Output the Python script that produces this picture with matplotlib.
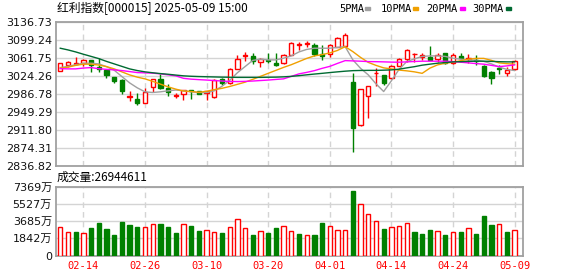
import numpy as np
import matplotlib
matplotlib.use('Agg')
from matplotlib import pyplot as plt
from matplotlib.patches import Rectangle

plt.rcParams['font.family'] = ['DejaVu Sans', 'Noto Sans CJK SC']

# торговые дни
dates = ['02-11', '02-12', '02-13', '02-14', '02-17', '02-18', '02-19', '02-20', '02-21', '02-24',
         '02-25', '02-26', '02-27', '02-28', '03-03', '03-04', '03-05', '03-06', '03-07', '03-10',
         '03-11', '03-12', '03-13', '03-14', '03-17', '03-18', '03-19', '03-20', '03-21', '03-24',
         '03-25', '03-26', '03-27', '03-28', '03-31', '04-01', '04-02', '04-03', '04-07', '04-08',
         '04-09', '04-10', '04-11', '04-14', '04-15', '04-16', '04-17', '04-18', '04-21', '04-22',
         '04-23', '04-24', '04-25', '04-28', '04-29', '04-30', '05-06', '05-07', '05-08', '05-09']

opens = [3035.6, 3048.0, 3050.0, 3051.5, 3057.8, 3042.6, 3037.0, 3021.9, 3016.3, 2981.5,
         2976.8, 2967.9, 3001.1, 3017.7, 2999.0, 2982.0, 2987.2, 2995.5, 2992.0, 2988.6,
         2979.5, 3017.7, 3009.4, 3038.5, 3065.0, 3066.0, 3053.0, 3057.8, 3052.2, 3050.9,
         3068.2, 3089.0, 3090.0, 3089.0, 3070.0, 3070.3, 3085.4, 3087.5, 3012.7, 2921.3,
         2981.6, 3030.0, 3026.6, 3019.8, 3045.3, 3059.9, 3069.6, 3064.7, 3064.7, 3059.2,
         3071.7, 3050.9, 3066.7, 3059.2, 3057.8, 3046.0, 3033.5, 3040.6, 3031.4, 3038.5]
highs = [3051.5, 3054.5, 3063.4, 3060.0, 3058.5, 3061.3, 3037.5, 3022.5, 3017.0, 2993.4,
         2988.6, 2999.0, 3018.0, 3028.0, 3007.3, 2988.6, 2996.0, 2996.0, 2993.0, 2994.0,
         3018.0, 3020.0, 3040.0, 3068.2, 3075.0, 3073.0, 3062.6, 3071.7, 3073.0, 3070.0,
         3095.0, 3095.8, 3097.0, 3092.5, 3089.0, 3091.0, 3105.0, 3113.2, 3031.4, 2997.0,
         3004.0, 3040.6, 3027.0, 3047.4, 3061.3, 3080.0, 3072.0, 3071.7, 3086.9, 3072.0,
         3072.4, 3073.0, 3073.0, 3070.3, 3068.2, 3046.5, 3034.0, 3047.4, 3042.6, 3057.8]
lows = [3035.0, 3043.0, 3047.4, 3045.0, 3033.5, 3032.3, 3021.0, 3010.7, 2986.6, 2971.2,
        2964.3, 2967.0, 2989.9, 2997.5, 2983.6, 2978.2, 2973.3, 2976.0, 2986.0, 2974.7,
        2978.0, 3006.0, 3007.0, 3038.0, 3055.8, 3048.9, 3044.0, 3051.0, 3045.0, 3050.0,
        3068.0, 3078.6, 3084.0, 3066.7, 3057.8, 3064.7, 3085.0, 3085.4, 2865.2, 2920.0,
        2936.7, 3002.4, 3005.9, 3019.0, 3045.0, 3053.0, 3053.0, 3057.8, 3057.0, 3054.0,
        3050.0, 3049.5, 3054.0, 3050.9, 3047.4, 3022.5, 3008.0, 3028.7, 3025.2, 3037.0]
closes = [3050.9, 3053.0, 3051.0, 3057.8, 3046.8, 3039.0, 3026.6, 3014.2, 2992.0, 2983.0,
          2967.0, 2990.7, 3017.7, 2998.3, 2989.9, 2985.0, 2995.5, 2992.0, 2987.2, 2993.4,
          3016.3, 3009.4, 3038.5, 3059.2, 3067.0, 3056.3, 3059.9, 3055.7, 3047.4, 3068.2,
          3093.7, 3091.0, 3092.0, 3069.6, 3066.7, 3089.0, 3102.9, 3109.7, 2915.9, 2996.9,
          3003.8, 3031.4, 3010.7, 3045.3, 3059.2, 3078.6, 3071.0, 3068.8, 3057.8, 3068.2,
          3050.9, 3068.2, 3061.3, 3062.0, 3056.3, 3024.6, 3019.8, 3038.5, 3037.0, 3055.7]

# объём, 万
volumes = [3052, 2485, 2517, 2378, 2945, 3449, 2838, 2196, 3588, 3267,
           3052, 3052, 3341, 3341, 3052, 2410, 3341, 3159, 2624, 2731,
           2485, 2410, 3052, 3909, 2945, 2196, 2624, 2410, 2945, 3127,
           2624, 2303, 2196, 2196, 3481, 3159, 2731, 2731, 6908, 5516,
           4445, 3695, 2838, 3020, 3127, 3449, 2517, 2303, 2731, 2592,
           2196, 2485, 2517, 2913, 2303, 4230, 3267, 3341, 2517, 2694]

# скользящие средние
ma5 = [3041.8, 3044.3, 3047.8, 3050.9, 3050.9, 3049.5, 3043.7, 3036.4, 3023.1, 3010.0,
       2999.6, 2991.3, 2989.9, 2991.3, 2993.4, 2995.1, 2993.4, 2991.3, 2989.9, 2989.9,
       2993.4, 3002.8, 3015.2, 3031.0, 3043.9, 3056.8, 3059.3, 3057.8, 3057.8, 3061.3,
       3066.1, 3074.4, 3079.6, 3082.1, 3082.1, 3082.1, 3083.8, 3085.4, 3057.8, 3040.2,
       3026.6, 3008.0, 2991.9, 3014.2, 3038.1, 3054.3, 3059.9, 3065.1, 3066.1, 3066.1,
       3065.1, 3061.3, 3059.3, 3057.8, 3057.2, 3054.7, 3049.5, 3042.6, 3038.1, 3035.6]
ma10 = [3040.6, 3042.6, 3046.4, 3048.9, 3048.9, 3047.0, 3043.9, 3039.1, 3032.9, 3026.6,
        3021.9, 3018.3, 3013.1, 3007.3, 3001.7, 2996.9, 2993.0, 2992.0, 2990.3, 2992.4,
        2995.9, 2998.6, 3002.4, 3006.9, 3011.4, 3017.3, 3023.5, 3029.8, 3036.0, 3042.2,
        3047.8, 3054.3, 3060.9, 3066.1, 3068.8, 3072.3, 3077.5, 3085.4, 3075.0, 3063.0,
        3052.6, 3046.4, 3041.2, 3039.1, 3036.6, 3035.0, 3032.9, 3029.8, 3040.6, 3047.4,
        3050.9, 3053.0, 3056.1, 3059.3, 3060.9, 3060.9, 3056.8, 3051.6, 3049.9, 3048.9]
ma20 = [3039.5, 3039.1, 3039.1, 3040.8, 3041.8, 3039.5, 3038.1, 3037.0, 3035.6, 3033.5,
        3031.4, 3030.8, 3030.2, 3028.7, 3026.7, 3024.6, 3019.4, 3017.7, 3016.7, 3015.8,
        3014.8, 3013.8, 3012.9, 3012.7, 3013.1, 3013.8, 3014.8, 3015.8, 3017.1, 3018.3,
        3023.5, 3028.7, 3031.8, 3035.4, 3040.2, 3044.3, 3050.5, 3056.3, 3055.7, 3055.1,
        3054.3, 3054.1, 3053.7, 3053.2, 3053.0, 3053.7, 3054.5, 3055.1, 3055.1, 3055.1,
        3055.1, 3054.3, 3053.0, 3051.6, 3050.1, 3048.9, 3046.4, 3043.9, 3045.3, 3047.4]
ma30 = [3082.1, 3078.6, 3074.4, 3069.6, 3065.1, 3060.5, 3054.7, 3049.5, 3044.3, 3039.1,
        3035.6, 3032.9, 3031.0, 3029.3, 3027.9, 3026.2, 3024.6, 3023.7, 3023.1, 3022.7,
        3022.3, 3021.9, 3021.7, 3021.4, 3021.4, 3021.4, 3021.4, 3021.7, 3021.9, 3022.5,
        3023.5, 3025.0, 3026.7, 3028.3, 3029.8, 3031.4, 3032.9, 3034.3, 3035.4, 3035.8,
        3036.0, 3036.0, 3036.4, 3037.0, 3038.5, 3041.2, 3043.7, 3046.8, 3048.9, 3050.9,
        3052.2, 3053.7, 3054.1, 3054.7, 3055.1, 3055.1, 3054.7, 3054.1, 3053.7, 3053.7]

price_ticks = [3136.73, 3099.24, 3061.75, 3024.26, 2986.78, 2949.29, 2911.80, 2874.31, 2836.82]
vol_ticks = [0, 1842, 3685, 5527, 7369]
label_dates = ['02-14', '02-26', '03-10', '03-20', '04-01', '04-14', '04-24', '05-09']

title = '红利指数[000015] 2025-05-09 15:00'
vol_title = '成交量:26944611'
ma_names = ['5PMA', '10PMA', '20PMA', '30PMA']

RED = '#ff0000'
GREEN = '#008000'
GRID = '#d4d4d4'
SPINE = '#a0a0a0'
ma_colors = ['#a0a0a0', '#f0a000', '#ff00ff', '#006a32']

o = np.array(opens)
h = np.array(highs)
l = np.array(lows)
c = np.array(closes)
v = np.array(volumes)
x = np.arange(len(dates))
up = c >= o
prev = np.concatenate([[o[0]], c[:-1]])
vol_up = c >= prev
tick_pos = [dates.index(d) for d in label_dates]

W, H = 578, 276
fig = plt.figure(figsize=(W / 100, H / 100), dpi=100)
ax = fig.add_axes([55.5 / W, 1 - 166 / H, 467 / W, 144 / H])
ax2 = fig.add_axes([55.5 / W, 1 - 255.5 / H, 467 / W, 68.8 / H])

xlim = (-0.62, 60.03)

# свечи
ax.vlines(x, l, h, colors=np.where(up, RED, GREEN), lw=1, zorder=2)
ax.bar(x, np.maximum(np.abs(c - o), 0.3), bottom=np.minimum(o, c), width=0.56,
       facecolor=np.where(up, 'white', GREEN), edgecolor=np.where(up, RED, GREEN),
       lw=1, zorder=3)
for vals, col in zip([ma5, ma10, ma20, ma30], ma_colors):
    ax.plot(x, vals, color=col, lw=1, zorder=4)

ax.set_xlim(*xlim)
ax.set_ylim(price_ticks[-1], price_ticks[0])
ax.set_yticks(price_ticks)
ax.set_yticklabels(['%.2f' % p for p in price_ticks])
ax.set_xticks(tick_pos)
ax.set_xticklabels([])

# объём
ax2.bar(x, v, width=0.56, facecolor=np.where(vol_up, 'white', GREEN),
        edgecolor=np.where(vol_up, RED, GREEN), lw=1, zorder=3)
ax2.set_xlim(*xlim)
ax2.set_ylim(vol_ticks[0], vol_ticks[-1])
ax2.set_yticks(vol_ticks)
ax2.set_yticklabels(['0'] + ['%d万' % t for t in vol_ticks[1:]])
ax2.set_xticks(tick_pos)

for a in (ax, ax2):
    a.grid(axis='y', color=GRID, lw=1, zorder=0)
    a.grid(axis='x', color=GRID, lw=1, ls=(0, (4, 3)), zorder=0)
    a.set_axisbelow(True)
    a.tick_params(length=0, pad=2.5, labelsize=8, labelcolor='#111111')
    for s in a.spines.values():
        s.set_color(SPINE)
        s.set_linewidth(1.3)

ax2.set_xticklabels(label_dates, family='DejaVu Sans Mono', fontsize=7.5)
ax2.tick_params(axis='x', pad=4, labelcolor=RED, labelsize=7.5)

# подписи
fig.text(57 / W, 1 - 9 / H, title, fontsize=8.5, va='center', ha='left',
         family=['Noto Sans CJK SC', 'DejaVu Sans'])
fig.text(57 / W, 1 - 177.5 / H, vol_title, fontsize=8.5, va='center', ha='left',
         family=['Noto Sans CJK SC', 'DejaVu Sans'])

# легенда
leg_x = [339, 381, 426, 472]
sq_x = [365, 413, 460, 506]
for name, lx, sx, col in zip(ma_names, leg_x, sq_x, ma_colors):
    fig.text(lx / W, 1 - 9 / H, name, fontsize=7.5, va='center', ha='left',
             family='DejaVu Sans Mono')
    fig.patches.append(Rectangle((sx / W, 1 - 10 / H), 5 / W, 2.5 / H, color=col,
                                 transform=fig.transFigure, figure=fig))

fig.savefig('out.png', dpi=100)
